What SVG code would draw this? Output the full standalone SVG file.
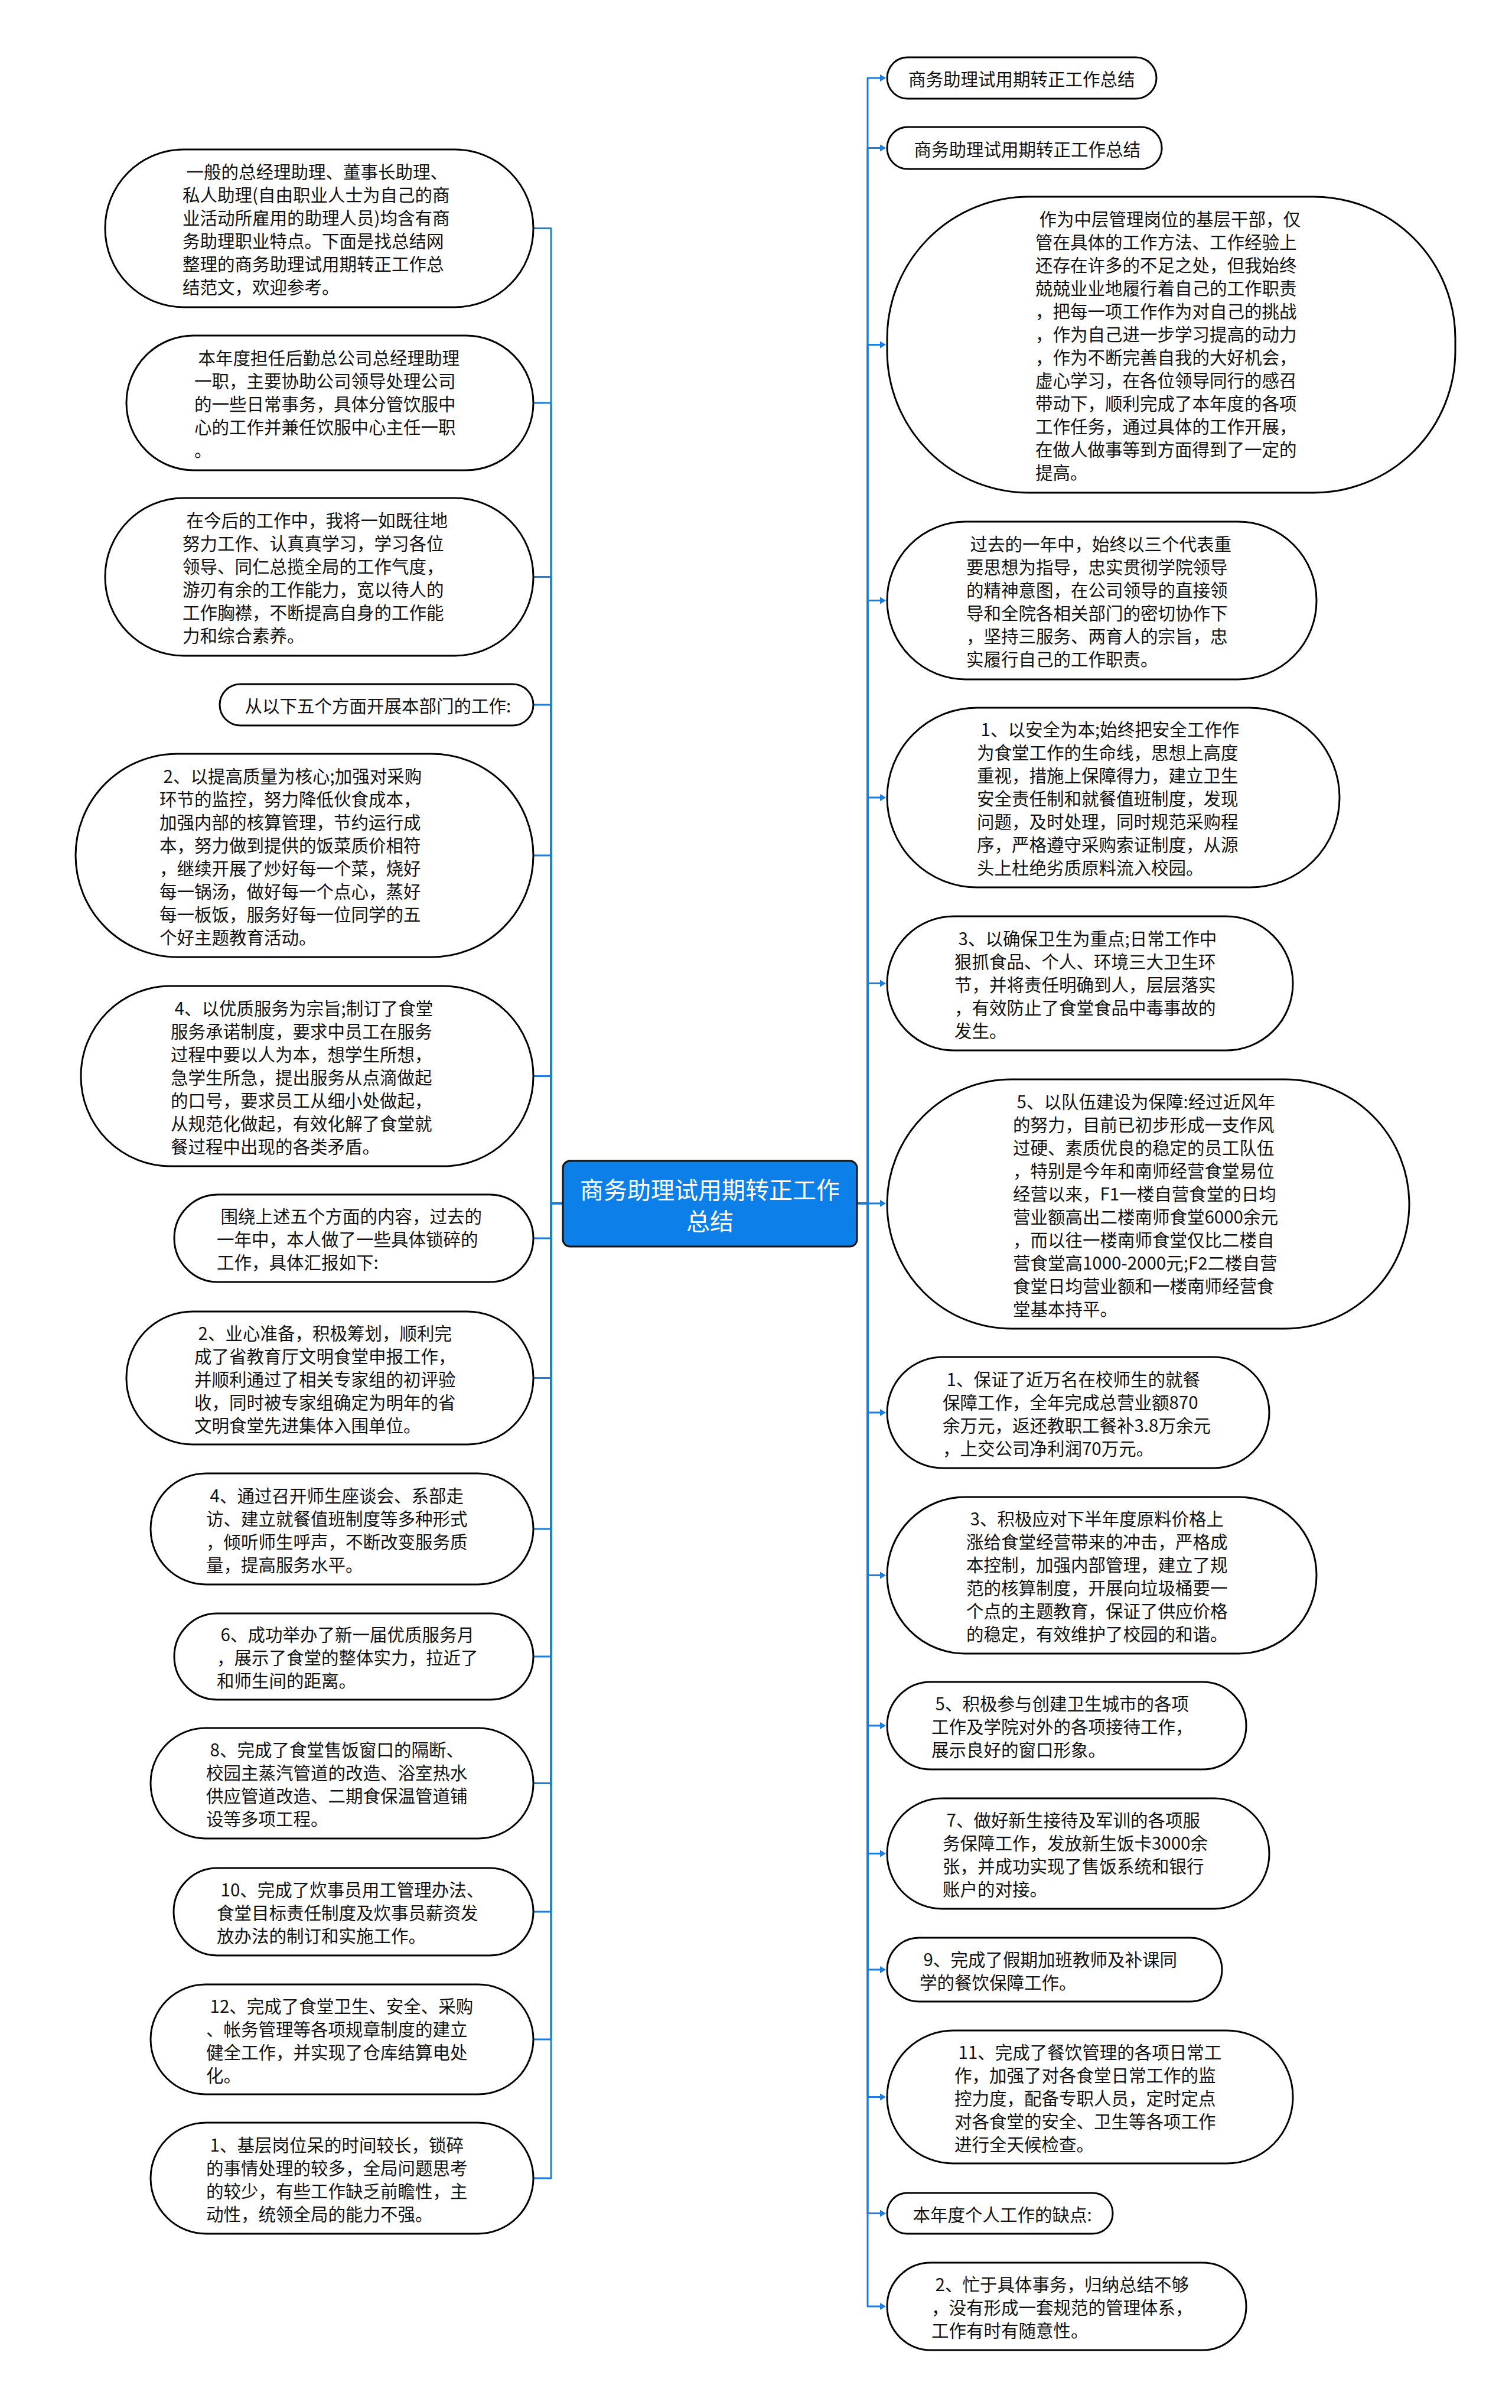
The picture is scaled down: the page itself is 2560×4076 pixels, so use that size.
<svg xmlns="http://www.w3.org/2000/svg" width="2560" height="4076" viewBox="0 0 2560 4076">
<style>
.n{fill:#fff;stroke:#000;stroke-width:3}
.t{font-family:"Noto Sans CJK SC","Noto Sans",sans-serif;font-size:29.5px;fill:#111;dominant-baseline:central}
.c{fill:none;stroke:#1a7de0;stroke-width:3;stroke-linejoin:round}
.root{fill:#0c7fe8;stroke:#111;stroke-width:3}
.rt{font-family:"Noto Sans CJK SC","Noto Sans",sans-serif;font-size:40px;fill:#fff;text-anchor:middle;dominant-baseline:central}
</style>
<defs>
<marker id="arr" markerWidth="10" markerHeight="12" refX="0" refY="6" orient="auto" markerUnits="userSpaceOnUse"><path d="M0,0 L10,6 L0,12 z" fill="#1a7de0"/></marker>
</defs>
<rect width="2560" height="4076" fill="#fff"/>
<g id="connectors">
<path class="c" marker-end="url(#arr)" d="M953 2037H933V386.5H893"/>
<path class="c" marker-end="url(#arr)" d="M953 2037H933V682H893"/>
<path class="c" marker-end="url(#arr)" d="M953 2037H933V976.5H893"/>
<path class="c" marker-end="url(#arr)" d="M953 2037H933V1193H893"/>
<path class="c" marker-end="url(#arr)" d="M953 2037H933V1448H893"/>
<path class="c" marker-end="url(#arr)" d="M953 2037H933V1821.5H893"/>
<path class="c" marker-end="url(#arr)" d="M953 2037H933V2096H893"/>
<path class="c" marker-end="url(#arr)" d="M953 2037H933V2332.5H893"/>
<path class="c" marker-end="url(#arr)" d="M953 2037H933V2588H893"/>
<path class="c" marker-end="url(#arr)" d="M953 2037H933V2804H893"/>
<path class="c" marker-end="url(#arr)" d="M953 2037H933V3018.5H893"/>
<path class="c" marker-end="url(#arr)" d="M953 2037H933V3236H893"/>
<path class="c" marker-end="url(#arr)" d="M953 2037H933V3452H893"/>
<path class="c" marker-end="url(#arr)" d="M953 2037H933V3687H893"/>
<path class="c" marker-end="url(#arr)" d="M1452 2037H1469V132H1490"/>
<path class="c" marker-end="url(#arr)" d="M1452 2037H1469V250.5H1490"/>
<path class="c" marker-end="url(#arr)" d="M1452 2037H1469V583.5H1490"/>
<path class="c" marker-end="url(#arr)" d="M1452 2037H1469V1016.5H1490"/>
<path class="c" marker-end="url(#arr)" d="M1452 2037H1469V1350H1490"/>
<path class="c" marker-end="url(#arr)" d="M1452 2037H1469V1664.5H1490"/>
<path class="c" marker-end="url(#arr)" d="M1452 2037H1490"/>
<path class="c" marker-end="url(#arr)" d="M1452 2037H1469V2391H1490"/>
<path class="c" marker-end="url(#arr)" d="M1452 2037H1469V2666.5H1490"/>
<path class="c" marker-end="url(#arr)" d="M1452 2037H1469V2921H1490"/>
<path class="c" marker-end="url(#arr)" d="M1452 2037H1469V3137.5H1490"/>
<path class="c" marker-end="url(#arr)" d="M1452 2037H1469V3334H1490"/>
<path class="c" marker-end="url(#arr)" d="M1452 2037H1469V3549.5H1490"/>
<path class="c" marker-end="url(#arr)" d="M1452 2037H1469V3746.5H1490"/>
<path class="c" marker-end="url(#arr)" d="M1452 2037H1469V3904H1490"/>
</g>
<g id="root">
<rect class="root" x="953" y="1965" width="498" height="145" rx="12"/>
<text class="rt"><tspan x="1202" y="2012">商务助理试用期转正工作</tspan><tspan x="1202" y="2065">总结</tspan></text>
</g>
<g id="L1">
<rect class="n" x="178" y="253" width="725" height="267" rx="133" ry="133"/>
<text class="t" xml:space="preserve"><tspan x="309" y="289"> 一般的总经理助理、董事长助理、</tspan><tspan x="309" y="328">私人助理(自由职业人士为自己的商</tspan><tspan x="309" y="367">业活动所雇用的助理人员)均含有商</tspan><tspan x="309" y="406">务助理职业特点。下面是找总结网</tspan><tspan x="309" y="445">整理的商务助理试用期转正工作总</tspan><tspan x="309" y="484">结范文，欢迎参考。</tspan></text>
</g>
<g id="L2">
<rect class="n" x="214" y="568" width="689" height="228" rx="114" ry="114"/>
<text class="t" xml:space="preserve"><tspan x="329" y="604"> 本年度担任后勤总公司总经理助理</tspan><tspan x="329" y="643">一职，主要协助公司领导处理公司</tspan><tspan x="329" y="682">的一些日常事务，具体分管饮服中</tspan><tspan x="329" y="721">心的工作并兼任饮服中心主任一职</tspan><tspan x="329" y="760">。</tspan></text>
</g>
<g id="L3">
<rect class="n" x="178" y="843" width="725" height="267" rx="133" ry="133"/>
<text class="t" xml:space="preserve"><tspan x="309" y="879"> 在今后的工作中，我将一如既往地</tspan><tspan x="309" y="918">努力工作、认真真学习，学习各位</tspan><tspan x="309" y="957">领导、同仁总揽全局的工作气度，</tspan><tspan x="309" y="996">游刃有余的工作能力，宽以待人的</tspan><tspan x="309" y="1035">工作胸襟，不断提高自身的工作能</tspan><tspan x="309" y="1074">力和综合素养。</tspan></text>
</g>
<g id="L4">
<rect class="n" x="372" y="1158" width="531" height="70" rx="35" ry="35"/>
<text class="t" xml:space="preserve"><tspan x="408" y="1193"> 从以下五个方面开展本部门的工作:</tspan></text>
</g>
<g id="L5">
<rect class="n" x="128" y="1276" width="775" height="344" rx="172" ry="172"/>
<text class="t" xml:space="preserve"><tspan x="270" y="1311.5"> 2、以提高质量为核心;加强对采购</tspan><tspan x="270" y="1350.5">环节的监控，努力降低伙食成本，</tspan><tspan x="270" y="1389.5">加强内部的核算管理，节约运行成</tspan><tspan x="270" y="1428.5">本，努力做到提供的饭菜质价相符</tspan><tspan x="270" y="1467.5">，继续开展了炒好每一个菜，烧好</tspan><tspan x="270" y="1506.5">每一锅汤，做好每一个点心，蒸好</tspan><tspan x="270" y="1545.5">每一板饭，服务好每一位同学的五</tspan><tspan x="270" y="1584.5">个好主题教育活动。</tspan></text>
</g>
<g id="L6">
<rect class="n" x="137" y="1669" width="766" height="305" rx="152" ry="152"/>
<text class="t" xml:space="preserve"><tspan x="289" y="1704.5"> 4、以优质服务为宗旨;制订了食堂</tspan><tspan x="289" y="1743.5">服务承诺制度，要求中员工在服务</tspan><tspan x="289" y="1782.5">过程中要以人为本，想学生所想，</tspan><tspan x="289" y="1821.5">急学生所急，提出服务从点滴做起</tspan><tspan x="289" y="1860.5">的口号，要求员工从细小处做起，</tspan><tspan x="289" y="1899.5">从规范化做起，有效化解了食堂就</tspan><tspan x="289" y="1938.5">餐过程中出现的各类矛盾。</tspan></text>
</g>
<g id="L7">
<rect class="n" x="295" y="2022" width="608" height="148" rx="74" ry="74"/>
<text class="t" xml:space="preserve"><tspan x="367" y="2057"> 围绕上述五个方面的内容，过去的</tspan><tspan x="367" y="2096">一年中，本人做了一些具体锁碎的</tspan><tspan x="367" y="2135">工作，具体汇报如下:</tspan></text>
</g>
<g id="L8">
<rect class="n" x="214" y="2220" width="689" height="225" rx="112" ry="112"/>
<text class="t" xml:space="preserve"><tspan x="329" y="2254.5"> 2、业心准备，积极筹划，顺利完</tspan><tspan x="329" y="2293.5">成了省教育厅文明食堂申报工作，</tspan><tspan x="329" y="2332.5">并顺利通过了相关专家组的初评验</tspan><tspan x="329" y="2371.5">收，同时被专家组确定为明年的省</tspan><tspan x="329" y="2410.5">文明食堂先进集体入围单位。</tspan></text>
</g>
<g id="L9">
<rect class="n" x="255" y="2494" width="648" height="188" rx="94" ry="94"/>
<text class="t" xml:space="preserve"><tspan x="349" y="2529.5"> 4、通过召开师生座谈会、系部走</tspan><tspan x="349" y="2568.5">访、建立就餐值班制度等多种形式</tspan><tspan x="349" y="2607.5">，倾听师生呼声，不断改变服务质</tspan><tspan x="349" y="2646.5">量，提高服务水平。</tspan></text>
</g>
<g id="L10">
<rect class="n" x="295" y="2731" width="608" height="146" rx="73" ry="73"/>
<text class="t" xml:space="preserve"><tspan x="367" y="2765"> 6、成功举办了新一届优质服务月</tspan><tspan x="367" y="2804">，展示了食堂的整体实力，拉近了</tspan><tspan x="367" y="2843">和师生间的距离。</tspan></text>
</g>
<g id="L11">
<rect class="n" x="255" y="2925" width="648" height="187" rx="93" ry="93"/>
<text class="t" xml:space="preserve"><tspan x="349" y="2960"> 8、完成了食堂售饭窗口的隔断、</tspan><tspan x="349" y="2999">校园主蒸汽管道的改造、浴室热水</tspan><tspan x="349" y="3038">供应管道改造、二期食保温管道铺</tspan><tspan x="349" y="3077">设等多项工程。</tspan></text>
</g>
<g id="L12">
<rect class="n" x="294" y="3162" width="609" height="148" rx="74" ry="74"/>
<text class="t" xml:space="preserve"><tspan x="367" y="3197"> 10、完成了炊事员用工管理办法、</tspan><tspan x="367" y="3236">食堂目标责任制度及炊事员薪资发</tspan><tspan x="367" y="3275">放办法的制订和实施工作。</tspan></text>
</g>
<g id="L13">
<rect class="n" x="255" y="3359" width="648" height="186" rx="93" ry="93"/>
<text class="t" xml:space="preserve"><tspan x="349" y="3393.5"> 12、完成了食堂卫生、安全、采购</tspan><tspan x="349" y="3432.5">、帐务管理等各项规章制度的建立</tspan><tspan x="349" y="3471.5">健全工作，并实现了仓库结算电处</tspan><tspan x="349" y="3510.5">化。</tspan></text>
</g>
<g id="L14">
<rect class="n" x="255" y="3593" width="648" height="188" rx="94" ry="94"/>
<text class="t" xml:space="preserve"><tspan x="349" y="3628.5"> 1、基层岗位呆的时间较长，锁碎</tspan><tspan x="349" y="3667.5">的事情处理的较多，全局问题思考</tspan><tspan x="349" y="3706.5">的较少，有些工作缺乏前瞻性，主</tspan><tspan x="349" y="3745.5">动性，统领全局的能力不强。</tspan></text>
</g>
<g id="R1">
<rect class="n" x="1502" y="97" width="456" height="70" rx="35" ry="35"/>
<text class="t"><tspan x="1538" y="132">商务助理试用期转正工作总结</tspan></text>
</g>
<g id="R2">
<rect class="n" x="1502" y="215" width="465" height="71" rx="35" ry="35"/>
<text class="t" xml:space="preserve"><tspan x="1541" y="250.5"> 商务助理试用期转正工作总结</tspan></text>
</g>
<g id="R3">
<rect class="n" x="1502" y="333" width="962" height="501" rx="240" ry="240"/>
<text class="t" xml:space="preserve"><tspan x="1753" y="369"> 作为中层管理岗位的基层干部，仅</tspan><tspan x="1753" y="408">管在具体的工作方法、工作经验上</tspan><tspan x="1753" y="447">还存在许多的不足之处，但我始终</tspan><tspan x="1753" y="486">兢兢业业地履行着自己的工作职责</tspan><tspan x="1753" y="525">，把每一项工作作为对自己的挑战</tspan><tspan x="1753" y="564">，作为自己进一步学习提高的动力</tspan><tspan x="1753" y="603">，作为不断完善自我的大好机会，</tspan><tspan x="1753" y="642">虚心学习，在各位领导同行的感召</tspan><tspan x="1753" y="681">带动下，顺利完成了本年度的各项</tspan><tspan x="1753" y="720">工作任务，通过具体的工作开展，</tspan><tspan x="1753" y="759">在做人做事等到方面得到了一定的</tspan><tspan x="1753" y="798">提高。</tspan></text>
</g>
<g id="R4">
<rect class="n" x="1502" y="883" width="727" height="267" rx="133" ry="133"/>
<text class="t" xml:space="preserve"><tspan x="1636" y="919"> 过去的一年中，始终以三个代表重</tspan><tspan x="1636" y="958">要思想为指导，忠实贯彻学院领导</tspan><tspan x="1636" y="997">的精神意图，在公司领导的直接领</tspan><tspan x="1636" y="1036">导和全院各相关部门的密切协作下</tspan><tspan x="1636" y="1075">，坚持三服务、两育人的宗旨，忠</tspan><tspan x="1636" y="1114">实履行自己的工作职责。</tspan></text>
</g>
<g id="R5">
<rect class="n" x="1502" y="1198" width="766" height="304" rx="152" ry="152"/>
<text class="t" xml:space="preserve"><tspan x="1654" y="1233"> 1、以安全为本;始终把安全工作作</tspan><tspan x="1654" y="1272">为食堂工作的生命线，思想上高度</tspan><tspan x="1654" y="1311">重视，措施上保障得力，建立卫生</tspan><tspan x="1654" y="1350">安全责任制和就餐值班制度，发现</tspan><tspan x="1654" y="1389">问题，及时处理，同时规范采购程</tspan><tspan x="1654" y="1428">序，严格遵守采购索证制度，从源</tspan><tspan x="1654" y="1467">头上杜绝劣质原料流入校园。</tspan></text>
</g>
<g id="R6">
<rect class="n" x="1502" y="1551" width="687" height="227" rx="113" ry="113"/>
<text class="t" xml:space="preserve"><tspan x="1616" y="1586.5"> 3、以确保卫生为重点;日常工作中</tspan><tspan x="1616" y="1625.5">狠抓食品、个人、环境三大卫生环</tspan><tspan x="1616" y="1664.5">节，并将责任明确到人，层层落实</tspan><tspan x="1616" y="1703.5">，有效防止了食堂食品中毒事故的</tspan><tspan x="1616" y="1742.5">发生。</tspan></text>
</g>
<g id="R7">
<rect class="n" x="1502" y="1827" width="884" height="422" rx="211" ry="211"/>
<text class="t" xml:space="preserve"><tspan x="1715" y="1862.5"> 5、以队伍建设为保障:经过近风年</tspan><tspan x="1715" y="1901.5">的努力，目前已初步形成一支作风</tspan><tspan x="1715" y="1940.5">过硬、素质优良的稳定的员工队伍</tspan><tspan x="1715" y="1979.5">，特别是今年和南师经营食堂易位</tspan><tspan x="1715" y="2018.5">经营以来，F1一楼自营食堂的日均</tspan><tspan x="1715" y="2057.5">营业额高出二楼南师食堂6000余元</tspan><tspan x="1715" y="2096.5">，而以往一楼南师食堂仅比二楼自</tspan><tspan x="1715" y="2135.5">营食堂高1000-2000元;F2二楼自营</tspan><tspan x="1715" y="2174.5">食堂日均营业额和一楼南师经营食</tspan><tspan x="1715" y="2213.5">堂基本持平。</tspan></text>
</g>
<g id="R8">
<rect class="n" x="1502" y="2297" width="647" height="188" rx="94" ry="94"/>
<text class="t" xml:space="preserve"><tspan x="1596" y="2332.5"> 1、保证了近万名在校师生的就餐</tspan><tspan x="1596" y="2371.5">保障工作，全年完成总营业额870</tspan><tspan x="1596" y="2410.5">余万元，返还教职工餐补3.8万余元</tspan><tspan x="1596" y="2449.5">，上交公司净利润70万元。</tspan></text>
</g>
<g id="R9">
<rect class="n" x="1502" y="2534" width="727" height="265" rx="132" ry="132"/>
<text class="t" xml:space="preserve"><tspan x="1636" y="2569"> 3、积极应对下半年度原料价格上</tspan><tspan x="1636" y="2608">涨给食堂经营带来的冲击，严格成</tspan><tspan x="1636" y="2647">本控制，加强内部管理，建立了规</tspan><tspan x="1636" y="2686">范的核算制度，开展向垃圾桶要一</tspan><tspan x="1636" y="2725">个点的主题教育，保证了供应价格</tspan><tspan x="1636" y="2764">的稳定，有效维护了校园的和谐。</tspan></text>
</g>
<g id="R10">
<rect class="n" x="1502" y="2847" width="608" height="148" rx="74" ry="74"/>
<text class="t" xml:space="preserve"><tspan x="1577" y="2882"> 5、积极参与创建卫生城市的各项</tspan><tspan x="1577" y="2921">工作及学院对外的各项接待工作，</tspan><tspan x="1577" y="2960">展示良好的窗口形象。</tspan></text>
</g>
<g id="R11">
<rect class="n" x="1502" y="3044" width="647" height="187" rx="93" ry="93"/>
<text class="t" xml:space="preserve"><tspan x="1596" y="3079"> 7、做好新生接待及军训的各项服</tspan><tspan x="1596" y="3118">务保障工作，发放新生饭卡3000余</tspan><tspan x="1596" y="3157">张，并成功实现了售饭系统和银行</tspan><tspan x="1596" y="3196">账户的对接。</tspan></text>
</g>
<g id="R12">
<rect class="n" x="1502" y="3280" width="567" height="108" rx="54" ry="54"/>
<text class="t" xml:space="preserve"><tspan x="1557" y="3314.5"> 9、完成了假期加班教师及补课同</tspan><tspan x="1557" y="3353.5">学的餐饮保障工作。</tspan></text>
</g>
<g id="R13">
<rect class="n" x="1502" y="3437" width="687" height="225" rx="112" ry="112"/>
<text class="t" xml:space="preserve"><tspan x="1616" y="3471.5"> 11、完成了餐饮管理的各项日常工</tspan><tspan x="1616" y="3510.5">作，加强了对各食堂日常工作的监</tspan><tspan x="1616" y="3549.5">控力度，配备专职人员，定时定点</tspan><tspan x="1616" y="3588.5">对各食堂的安全、卫生等各项工作</tspan><tspan x="1616" y="3627.5">进行全天候检查。</tspan></text>
</g>
<g id="R14">
<rect class="n" x="1502" y="3712" width="382" height="69" rx="34" ry="34"/>
<text class="t" xml:space="preserve"><tspan x="1539" y="3746.5"> 本年度个人工作的缺点:</tspan></text>
</g>
<g id="R15">
<rect class="n" x="1502" y="3830" width="608" height="148" rx="74" ry="74"/>
<text class="t" xml:space="preserve"><tspan x="1577" y="3865"> 2、忙于具体事务，归纳总结不够</tspan><tspan x="1577" y="3904">，没有形成一套规范的管理体系，</tspan><tspan x="1577" y="3943">工作有时有随意性。</tspan></text>
</g>
</svg>
